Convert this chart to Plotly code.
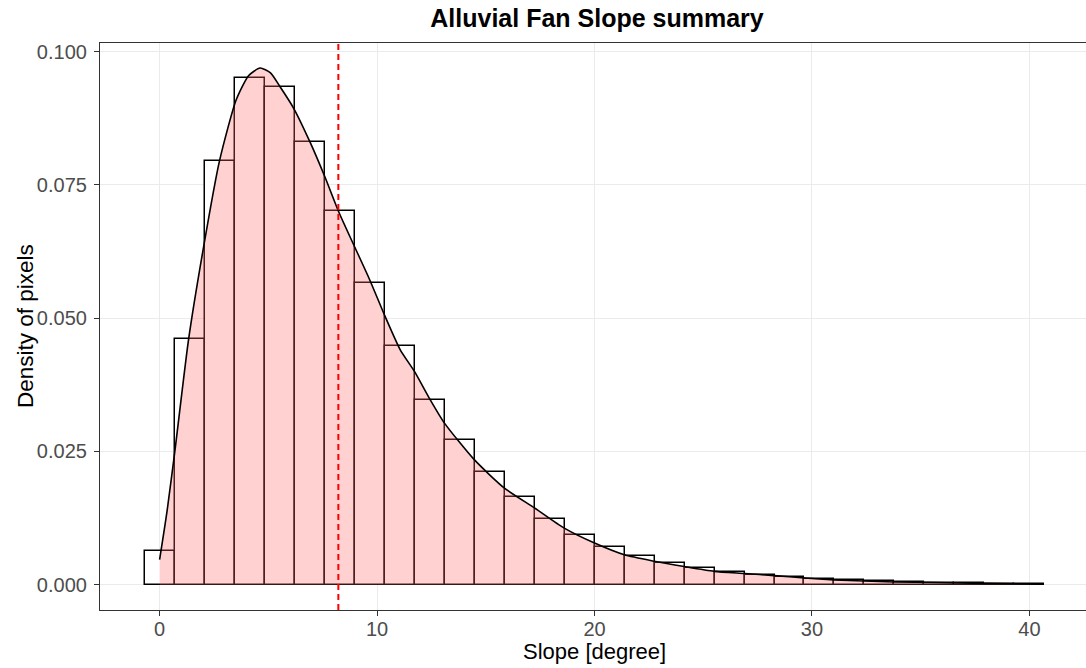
import plotly.graph_objects as go

# Histogram (density scale), 30 bins of width 40/29 centred at 0
bin_width = 40 / 29
bin_centers = [i * bin_width for i in range(30)]
bin_density = [0.0064, 0.0461, 0.0794, 0.0951, 0.0934, 0.0830, 0.0700, 0.0566,
               0.0447, 0.0347, 0.0272, 0.0211, 0.0164, 0.0123, 0.0094, 0.0071,
               0.0053, 0.0041, 0.0031, 0.0024, 0.0018, 0.0014, 0.0011, 0.0009,
               0.0007, 0.0005, 0.0004, 0.0003, 0.0002, 0.0001]

# Kernel density estimate
kde_x = [0.0, 0.35, 0.71, 1.33, 2.0, 2.75, 3.52, 4.1, 4.62, 5.1, 5.54, 6.16, 6.92,
         7.6, 8.23, 8.92, 9.66, 10.35, 11.06, 11.72, 12.4, 13.1, 14.48, 15.86,
         17.24, 18.61, 20.0, 21.37, 22.74, 24.12, 25.5, 26.9, 28.27, 29.65,
         31.02, 32.4, 33.8, 35.6, 37.9, 40.66]
kde_y = [0.0047, 0.0140, 0.0253, 0.0459, 0.0628, 0.0794, 0.0909, 0.0955, 0.0969,
         0.0960, 0.0934, 0.0894, 0.0830, 0.0765, 0.0700, 0.0638, 0.0572, 0.0505,
         0.0441, 0.0400, 0.0350, 0.0303, 0.0234, 0.0181, 0.0144, 0.0106, 0.0078,
         0.0056, 0.0044, 0.0034, 0.0025, 0.0021, 0.0017, 0.00125, 0.0009, 0.0007,
         0.0005, 0.0004, 0.00025, 0.0001]

mean_slope = 8.22

x_ticks = [0, 10, 20, 30, 40]
y_ticks = [0.0, 0.025, 0.05, 0.075, 0.1]
y_tick_labels = ["0.000", "0.025", "0.050", "0.075", "0.100"]

FONT = "Liberation Sans, Arial, sans-serif"
W, H = 1086, 668
ML, MR, MT, MB = 100, 0, 43, 58
PW, PH = W - ML - MR, H - MT - MB

fig = go.Figure()
fig.add_trace(go.Bar(
    x=bin_centers, y=bin_density, width=bin_width,
    marker=dict(color="white", line=dict(color="black", width=1.5)),
    showlegend=False, hoverinfo="skip",
))
fig.add_trace(go.Scatter(
    x=kde_x, y=kde_y, mode="lines",
    line=dict(color="black", width=1.6, shape="spline", smoothing=0.6),
    fill="tozeroy", fillcolor="rgba(255,102,102,0.3)",
    showlegend=False, hoverinfo="skip",
))
fig.add_shape(type="line", xref="x", yref="paper", x0=mean_slope, x1=mean_slope,
              y0=0, y1=1, line=dict(color="#FF0000", width=2, dash="6px,4px"),
              layer="above")

fig.update_layout(
    width=W, height=H,
    margin=dict(l=ML, r=MR, t=MT, b=MB, autoexpand=False),
    paper_bgcolor="white", plot_bgcolor="white",
    font=dict(family=FONT, color="black"),
    title=dict(text="<b>Alluvial Fan Slope summary</b>", x=597 / W, xref="container",
               xanchor="center", y=1 - 18 / H, yref="container", yanchor="middle",
               font=dict(size=25, color="black", family=FONT)),
    bargap=0,
)

fig.add_annotation(text="Slope [degree]", xref="paper", yref="paper",
                   x=(594 - ML) / PW, y=-(652 - (MT + PH)) / PH,
                   xanchor="center", yanchor="middle", showarrow=False,
                   font=dict(size=22, color="black", family=FONT))
fig.add_annotation(text="Density of pixels", xref="paper", yref="paper",
                   x=-(ML - 25) / PW, y=(MT + PH - 326) / PH, textangle=-90,
                   xanchor="center", yanchor="middle", showarrow=False,
                   font=dict(size=22.5, color="black", family=FONT))

fig.update_xaxes(
    range=[-2.74, 42.6], tickvals=x_ticks, ticktext=[str(v) for v in x_ticks],
    showgrid=True, gridcolor="#EBEBEB", gridwidth=1.3, zeroline=False,
    showline=True, linecolor="#333333", linewidth=1.2, mirror=True,
    ticks="outside", ticklen=5, tickcolor="#333333", tickwidth=1.2,
    ticklabelstandoff=-4,
    tickfont=dict(size=20, color="#4D4D4D", family=FONT), automargin=False,
)
fig.update_yaxes(
    range=[-0.00475, 0.1016], tickvals=y_ticks, ticktext=y_tick_labels,
    showgrid=True, gridcolor="#EBEBEB", gridwidth=1.3, zeroline=False,
    showline=True, linecolor="#333333", linewidth=1.2, mirror=False,
    ticks="outside", ticklen=5, tickcolor="#333333", tickwidth=1.2,
    ticklabelstandoff=3,
    tickfont=dict(size=20, color="#4D4D4D", family=FONT), automargin=False,
)

fig.write_html("out.html", config={"displayModeBar": False},
               post_script="document.body.style.margin='0px';document.body.style.overflow='hidden';")
